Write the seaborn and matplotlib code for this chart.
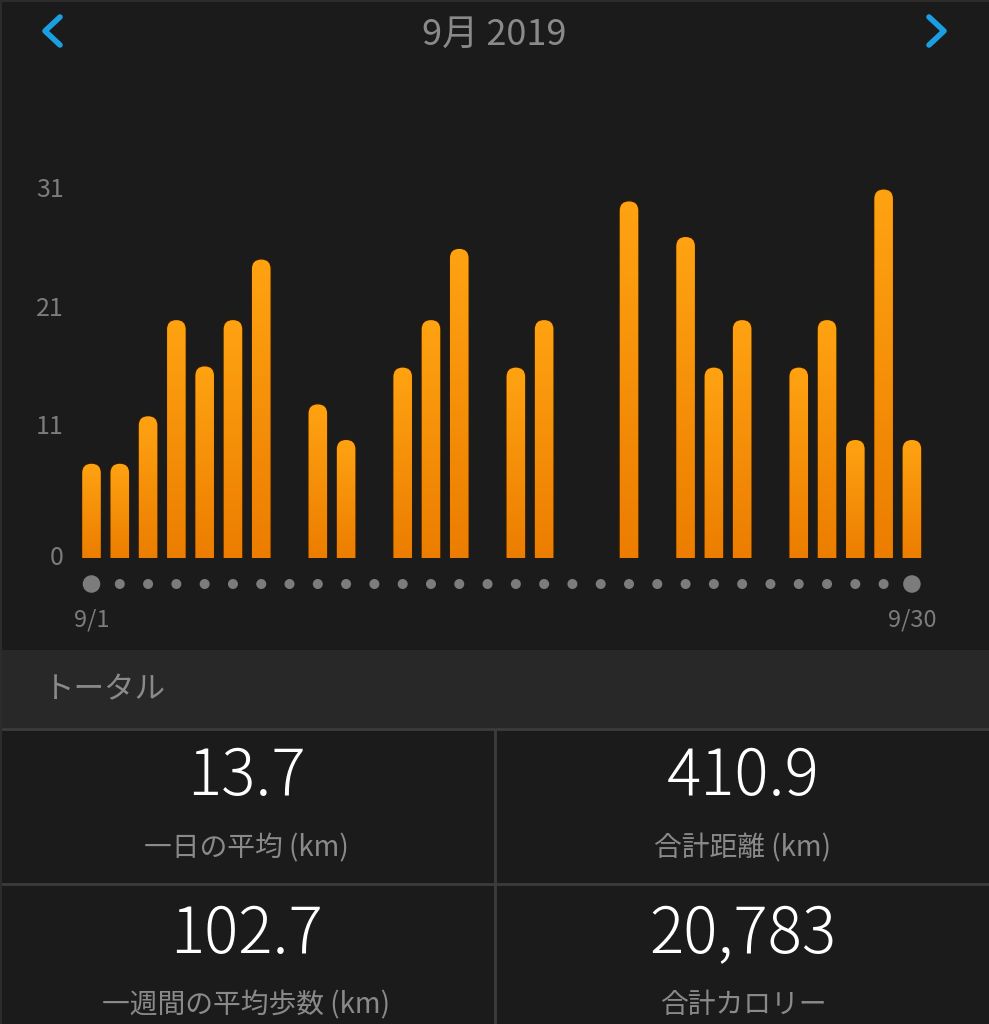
import numpy as np
import pandas as pd
import matplotlib
matplotlib.use('Agg')
import matplotlib.pyplot as plt
import seaborn as sns
from matplotlib.patches import FancyBboxPatch, Rectangle
from matplotlib.lines import Line2D
from matplotlib.colors import LinearSegmentedColormap

# daily distance (km), September 2019
days = [str(d) for d in range(1, 31)]
distance = [8.0, 8.0, 12.0, 20.1, 16.2, 20.1, 25.2, 0, 13.0, 10.0,
            0, 16.1, 20.1, 26.1, 0, 16.1, 20.1, 0, 0, 30.1,
            0, 27.1, 16.1, 20.1, 0, 16.1, 20.1, 10.0, 31.1, 10.0]
y_ticks = [0, 11, 21, 31]
date_labels = ['9/1', '9/30']
title = '9月 2019'
section = 'トータル'
stat_values = ['13.7', '410.9', '102.7', '20,783']
stat_labels = ['一日の平均 (km)', '合計距離 (km)', '一週間の平均歩数 (km)', '合計カロリー']

data = pd.DataFrame({'day': days, 'km': distance})

BG = '#1b1b1b'
BAND = '#282828'
LINE = '#3c3c3c'
GREY = '#7c7c7c'
LABEL = '#8a8a8a'
BLUE = '#1a9fe2'

sns.set_theme(style='dark')
plt.rcParams['font.family'] = ['Noto Sans CJK JP', 'DejaVu Sans']

W, H = 989, 1024
fig = plt.figure(figsize=(W / 100, H / 100), dpi=100, facecolor=BG)


def fx(px):
    return px / W


def fy(py):
    return 1 - py / H


# ---- chart area: axes covers pixel rows 150..640 over full width
ax_top, ax_bot = 150, 640
ax = fig.add_axes([0, fy(ax_bot), 1, (ax_bot - ax_top) / H])
ax.set_facecolor(BG)

x0_px, step_px = 91.5, 28.29       # pixel of first bar, spacing
y0_px, unit_px = 558, 11.87        # pixel of zero, px per km
xlim = (-x0_px / step_px, (W - x0_px) / step_px)
ylim = ((y0_px - ax_bot) / unit_px, (y0_px - ax_top) / unit_px)

bar_w = 20 / step_px
sns.barplot(data=data, x='day', y='km', color='#f59a0c', width=bar_w,
            ax=ax, errorbar=None)

# gradient fill + rounded tops
grad = np.linspace(0, 1, 128).reshape(-1, 1)
cmap = LinearSegmentedColormap.from_list('org', ['#ec7d00', '#ffa312'])
aspect = (1 / unit_px) / (1 / step_px)
for p in list(ax.patches):
    h = p.get_height()
    x = p.get_x()
    w = p.get_width()
    p.set_visible(False)
    if h <= 0:
        continue
    r = w / 2
    box = FancyBboxPatch((x, -2), w, h + 2,
                         boxstyle=f'round,pad=0,rounding_size={r}',
                         mutation_aspect=aspect, facecolor='none',
                         edgecolor='#2a1a08', linewidth=1.0, zorder=3)
    ax.add_patch(box)
    box.set_clip_path(Rectangle((x - 1, 0), w + 2, h + 5,
                                transform=ax.transData))
    im = ax.imshow(grad, cmap=cmap, origin='lower', aspect='auto',
                   extent=(x, x + w, 0, h), zorder=2,
                   interpolation='bilinear')
    im.set_clip_path(box)

ax.set_xlim(*xlim)
ax.set_ylim(*ylim)

# dots under the bars
dot_y = (y0_px - 584) / unit_px
pos = np.arange(len(days))
sizes = [160 if i in (0, len(days) - 1) else 52 for i in pos]
ax.scatter(pos, [dot_y] * len(pos), s=sizes, color=GREY, zorder=3,
           linewidths=0)

# y tick labels
for t in y_ticks:
    ax.text(-(x0_px - 64) / step_px, t, str(t), ha='right', va='center',
            color=GREY, fontsize=18)

# date labels
lab_y = (y0_px - 620) / unit_px
ax.text(0, lab_y, date_labels[0], ha='center', va='center', color=GREY,
        fontsize=17)
ax.text(len(days) - 1, lab_y, date_labels[1], ha='center', va='center',
        color=GREY, fontsize=17)

ax.set_xlabel('')
ax.set_ylabel('')
ax.set_xticks([])
ax.set_yticks([])
for s in ax.spines.values():
    s.set_visible(False)

# ---- header
fig.text(fx(494), fy(35), title, ha='center', va='center', color=LABEL,
         fontsize=26)
fig.add_artist(Line2D([fx(60), fx(45), fx(60)], [fy(17), fy(31), fy(45)],
                      color=BLUE, lw=4, solid_capstyle='round',
                      solid_joinstyle='round'))
fig.add_artist(Line2D([fx(929), fx(944), fx(929)], [fy(17), fy(31), fy(45)],
                      color=BLUE, lw=4, solid_capstyle='round',
                      solid_joinstyle='round'))

# ---- totals section
fig.add_artist(Rectangle((0, fy(728)), 1, (728 - 650) / H,
                         transform=fig.transFigure, facecolor=BAND,
                         edgecolor='none', zorder=0))
fig.text(fx(44), fy(690), section, ha='left', va='center', color=LABEL,
         fontsize=22)
for yy in (729, 884):
    fig.add_artist(Line2D([0, 1], [fy(yy), fy(yy)], color=LINE, lw=2))
fig.add_artist(Line2D([fx(495), fx(495)], [fy(730), 0], color=LINE, lw=2))

# thin frame on left / top edges
fig.add_artist(Line2D([fx(0.5), fx(0.5)], [0, 1], color='#2c2c2c', lw=1.5))
fig.add_artist(Line2D([0, 1], [fy(0.5), fy(0.5)], color='#2c2c2c', lw=1.5))

cells = [(246, 778, 848), (743, 778, 848), (246, 936, 1005), (743, 936, 1005)]
for (cx, vy, ly), val, lab in zip(cells, stat_values, stat_labels):
    fig.text(fx(cx), fy(vy), val, ha='center', va='center', color='white',
             fontsize=46, fontweight='light')
    fig.text(fx(cx), fy(ly), lab, ha='center', va='center', color=LABEL,
             fontsize=20)

fig.savefig('out.png', dpi=100, facecolor=BG)
